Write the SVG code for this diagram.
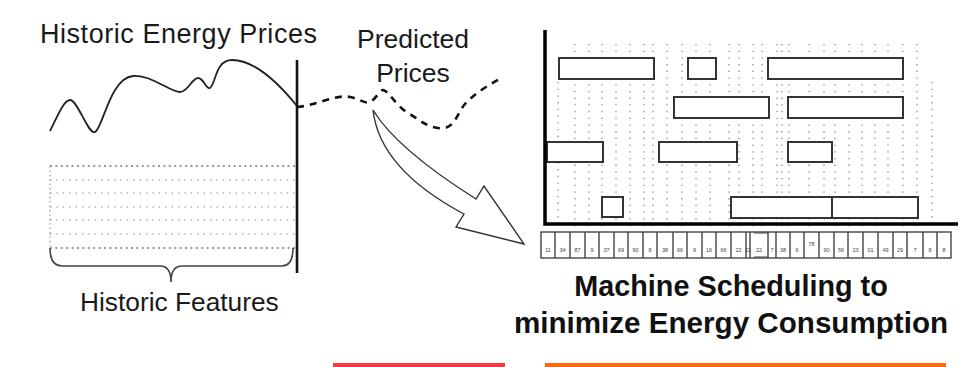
<svg xmlns="http://www.w3.org/2000/svg" width="973" height="367" viewBox="0 0 973 367">
<style>
.lbl{font-family:"Liberation Sans",Arial,sans-serif;fill:#1a1a1a}
.bold{font-family:"Liberation Sans",Arial,sans-serif;font-weight:bold;fill:#111}
.grid{stroke:#8a8a8a;stroke-width:1.3;stroke-dasharray:1.3 5.4;fill:none}
.job{fill:#fff;stroke:#333;stroke-width:2}
.cell{fill:#fff;stroke:#444;stroke-width:1.4}
.num{font-family:"Liberation Sans",Arial,sans-serif;font-size:5.5px;fill:#444;text-anchor:middle}
</style>
<rect width="973" height="367" fill="#fff"/>

<g id="historic-prices">
  <text class="lbl" x="40" y="43" font-size="27" textLength="277" lengthAdjust="spacing">Historic Energy Prices</text>
  <path d="M50,131 C58,115 64,100 70,100 C78,100 88,135 95,132 C103,128 110,78 133,76 C150,74 170,92 180,92 C188,92 192,78 198,78 C204,78 206,90 210,88 C216,84 215,60 232,60 C255,60 280,85 297,106" fill="none" stroke="#222" stroke-width="1.8"/>
  <line x1="297" y1="60" x2="297" y2="273" stroke="#111" stroke-width="2.6"/>
</g>

<g id="historic-features">
  <g fill="none">
    <path d="M50,166 H297 M50,248 H297" stroke="#777" stroke-width="1.3" stroke-dasharray="2 3.4"/>
    <path d="M50,180 H297 M50,193 H297 M50,207 H297 M50,220 H297 M50,234 H297" stroke="#aaa" stroke-width="1.3" stroke-dasharray="1.4 5"/>
    <path d="M50,166 V248" stroke="#999" stroke-width="1.3" stroke-dasharray="1.4 3"/>
  </g>
  <path d="M50,248 Q50,266 62,266 L160,266 Q171,266 171,282 Q171,266 182,266 L282,266 Q293,266 293,248" fill="none" stroke="#444" stroke-width="1.6"/>
  <text class="lbl" x="80" y="311" font-size="26.3">Historic Features</text>
</g>

<g id="predicted-prices">
  <text class="lbl" x="413" y="48" font-size="26.5" text-anchor="middle">Predicted</text>
  <text class="lbl" x="413" y="82" font-size="26.5" text-anchor="middle">Prices</text>
  <path d="M297,107 C315,106 335,94 350,97 C360,99 365,104 370,102 C375,100 380,90 383,90 C390,92 395,105 408,113 C420,120 430,130 445,128 C455,126 458,112 465,104 C475,93 490,84 503,77" fill="none" stroke="#111" stroke-width="2.6" stroke-dasharray="7 6"/>
</g>

<g id="connectors">
  <path d="M373,110 C390,138 430,170 476,199 L484,186 L524,244 L456,227 L464,214 C415,188 378,155 373,110 Z" fill="#fff" stroke="#333" stroke-width="1.4" stroke-linejoin="miter"/>
</g>

<g id="schedule">
  <path class="grid" d="M558,82 V228 M575,44 V228 M589,44 V228 M602,44 V228 M616,44 V228 M630,44 V228 M644,44 V228 M653,44 V228 M667,44 V228 M682,44 V228 M696,44 V228 M710,44 V228 M729,44 V228 M739,44 V228 M753,44 V228 M762,44 V228 M777,44 V228 M782,44 V228 M789,44 V228 M809,44 V228 M824,44 V228 M835,44 V228 M849,44 V228 M862,44 V228 M875,44 V228 M888,44 V228 M903,44 V228 M917,44 V228 M932,82 V228"/>
  <rect class="job" x="559" y="58" width="95" height="21"/>
  <rect class="job" x="688" y="58" width="28" height="21"/>
  <rect class="job" x="768" y="58" width="135" height="21"/>
  <rect class="job" x="674" y="97" width="95" height="21"/>
  <rect class="job" x="788" y="97" width="115" height="21"/>
  <rect class="job" x="547" y="142" width="56" height="20"/>
  <rect class="job" x="659" y="142" width="78" height="20"/>
  <rect class="job" x="788" y="142" width="44" height="20"/>
  <rect class="job" x="602" y="197" width="21" height="20"/>
  <rect class="job" x="731" y="197" width="187" height="21"/>
  <line x1="832" y1="197" x2="832" y2="218" stroke="#333" stroke-width="2"/>
  <path d="M545,30 V224 H958" fill="none" stroke="#000" stroke-width="3.5"/>
</g>

<g id="price-strip">
  <rect class="cell" x="541" y="232" width="410" height="26"/>
  <path d="M555,232 V258 M570,232 V258 M585,232 V258 M599,232 V258 M614,232 V258 M628,232 V258 M643,232 V258 M657,232 V258 M673,232 V258 M687,232 V258 M702,232 V258 M716,232 V258 M731,232 V258 M746,232 V258 M750,232 V258 M768,232 V258 M776,232 V258 M790,232 V258 M804,232 V258 M819,232 V258 M834,232 V258 M848,232 V258 M863,232 V258 M878,232 V258 M893,232 V258 M907,232 V258 M923,232 V258 M937,232 V258" fill="none" stroke="#444" stroke-width="1.4"/>
  <path d="M754,233 H768 M754,257 H768" stroke="#444" stroke-width="1.2"/>
  <text class="num" y="252">
    <tspan x="548">11</tspan><tspan x="562.5">34</tspan><tspan x="577.5">87</tspan><tspan x="592">9</tspan><tspan x="606.5">37</tspan><tspan x="621">69</tspan><tspan x="635.5">90</tspan><tspan x="650">8</tspan><tspan x="665">38</tspan><tspan x="680">66</tspan><tspan x="694.5">9</tspan><tspan x="709">16</tspan><tspan x="723.5">66</tspan><tspan x="738.5">22</tspan><tspan x="748">22</tspan><tspan x="759">22</tspan><tspan x="772">7</tspan><tspan x="783">38</tspan><tspan x="797">6</tspan><tspan x="826.5">90</tspan><tspan x="841">56</tspan><tspan x="855.5">23</tspan><tspan x="870.5">01</tspan><tspan x="885.5">49</tspan><tspan x="900">29</tspan><tspan x="915">7</tspan><tspan x="930">8</tspan><tspan x="944">8</tspan>
  </text>
  <text class="num" x="811.5" y="246">78</text>
</g>

<g id="caption">
  <text class="bold" x="731" y="296" font-size="28.8" text-anchor="middle">Machine Scheduling to</text>
  <text class="bold" x="731" y="333" font-size="29.6" text-anchor="middle">minimize Energy Consumption</text>
</g>

<g id="bars">
  <rect x="333" y="363" width="172" height="4" fill="#f23b3f"/>
  <rect x="545" y="363" width="401" height="4" fill="#fb6a0a"/>
</g>
</svg>
